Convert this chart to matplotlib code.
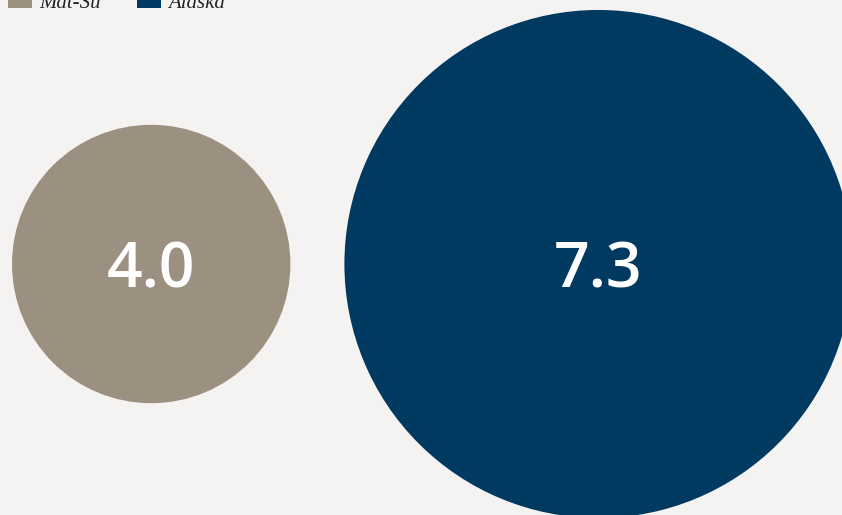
import matplotlib
matplotlib.use("Agg")
import matplotlib.pyplot as plt
from matplotlib.patches import Circle, Rectangle

regions = ["Mat-Su", "Alaska"]
values = [4.0, 7.3]
colors = ["#9c9080", "#013a60"]

W, H = 842, 515
fig = plt.figure(figsize=(W / 100, H / 100), dpi=100)
fig.patch.set_facecolor("#f4f3f1")
ax = fig.add_axes([0, 0, 1, 1])
ax.set_xlim(0, W)
ax.set_ylim(H, 0)
ax.set_aspect("equal")
ax.axis("off")

# radius scales with value (px per unit)
scale = 34.8
cy = 264
left = 12
gap = 54

x = left
for name, v, c in zip(regions, values, colors):
    r = v * scale
    cx = x + r
    ax.add_patch(Circle((cx, cy), r, color=c, lw=0))
    ax.text(cx, cy + 7, "%.1f" % v, color="white", fontsize=45,
            family="Open Sans", weight="semibold", ha="center", va="center")
    x = cx + r + gap

# legend, cut at the top
leg_x = [8, 137]
for lx, name, c in zip(leg_x, regions, colors):
    ax.add_patch(Rectangle((lx, -10), 24, 18, color=c, lw=0))
    ax.text(lx + 31, 8, name, fontsize=15, style="italic",
            family="Liberation Serif", ha="left", va="baseline", color="#222222")

fig.savefig("out.png", dpi=100, facecolor=fig.get_facecolor())
